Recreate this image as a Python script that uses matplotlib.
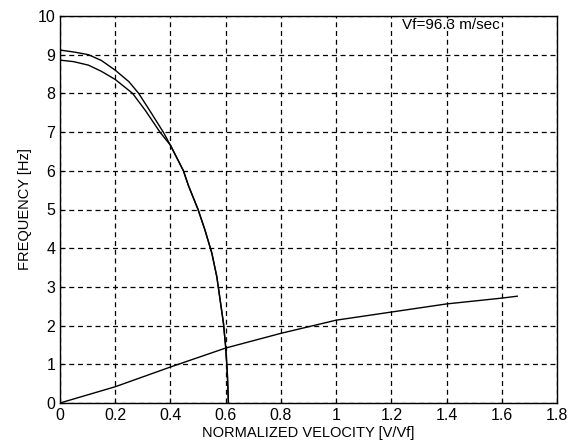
import matplotlib
matplotlib.use("Agg")
import matplotlib.pyplot as plt

plt.rcParams['font.family'] = ['Liberation Sans', 'DejaVu Sans']

# Upper branch (starts ~9.12 Hz)
v_upper = [0.0, 0.05, 0.103, 0.15, 0.2, 0.25, 0.285, 0.33, 0.374, 0.4, 0.447,
           0.465, 0.5, 0.525, 0.55, 0.568, 0.58, 0.592, 0.6, 0.606, 0.61]
f_upper = [9.12, 9.07, 9.0, 8.85, 8.6, 8.3, 8.0, 7.5, 7.0, 6.66, 6.0,
           5.62, 5.0, 4.47, 3.87, 3.26, 2.66, 2.06, 1.45, 0.77, 0.0]
# Lower branch (starts ~8.86 Hz)
v_lower = [0.0, 0.05, 0.103, 0.15, 0.2, 0.263, 0.31, 0.362, 0.4, 0.447,
           0.465, 0.5, 0.525, 0.55, 0.568, 0.58, 0.592, 0.6, 0.606, 0.61]
f_lower = [8.86, 8.82, 8.73, 8.57, 8.36, 8.0, 7.55, 7.0, 6.66, 6.0,
           5.62, 5.0, 4.47, 3.87, 3.26, 2.66, 2.06, 1.45, 0.77, 0.0]
# Rising branch
v_rise = [0.0, 0.2, 0.4, 0.6, 0.8, 1.0, 1.2, 1.4, 1.6, 1.656]
f_rise = [0.0, 0.42, 0.93, 1.42, 1.8, 2.14, 2.35, 2.56, 2.71, 2.76]

xticks = [0, 0.2, 0.4, 0.6, 0.8, 1, 1.2, 1.4, 1.6, 1.8]
xticklabels = ['0', '0.2', '0.4', '0.6', '0.8', '1', '1.2', '1.4', '1.6', '1.8']
yticks = list(range(0, 11))

fig = plt.figure(figsize=(5.79, 4.47), dpi=100)
ax = fig.add_axes([60/579, 1 - 403/447, (557-60)/579, (403-16)/447])

for v, f in [(v_upper, f_upper), (v_lower, f_lower), (v_rise, f_rise)]:
    ax.plot(v, f, color='black', lw=1.0)

ax.set_xlim(0, 1.8)
ax.set_ylim(0, 10)
ax.set_xticks(xticks)
ax.set_xticklabels(xticklabels)
ax.set_yticks(yticks)
ax.grid(True, color='black', linestyle=(0, (4, 3)), linewidth=0.9)
ax.tick_params(direction='in', length=3, labelsize=11.5, colors='black')
for s in ax.spines.values():
    s.set_color('black')
    s.set_linewidth(1.0)

ax.set_xlabel('NORMALIZED VELOCITY [V/Vf]', fontsize=10.5, labelpad=2)
ax.set_ylabel('FREQUENCY [Hz]', fontsize=10.5, labelpad=4)
ax.text(1.24, 9.77, 'Vf=96.3 m/sec', fontsize=11, ha='left', va='center')

fig.savefig('out.png', dpi=100)
